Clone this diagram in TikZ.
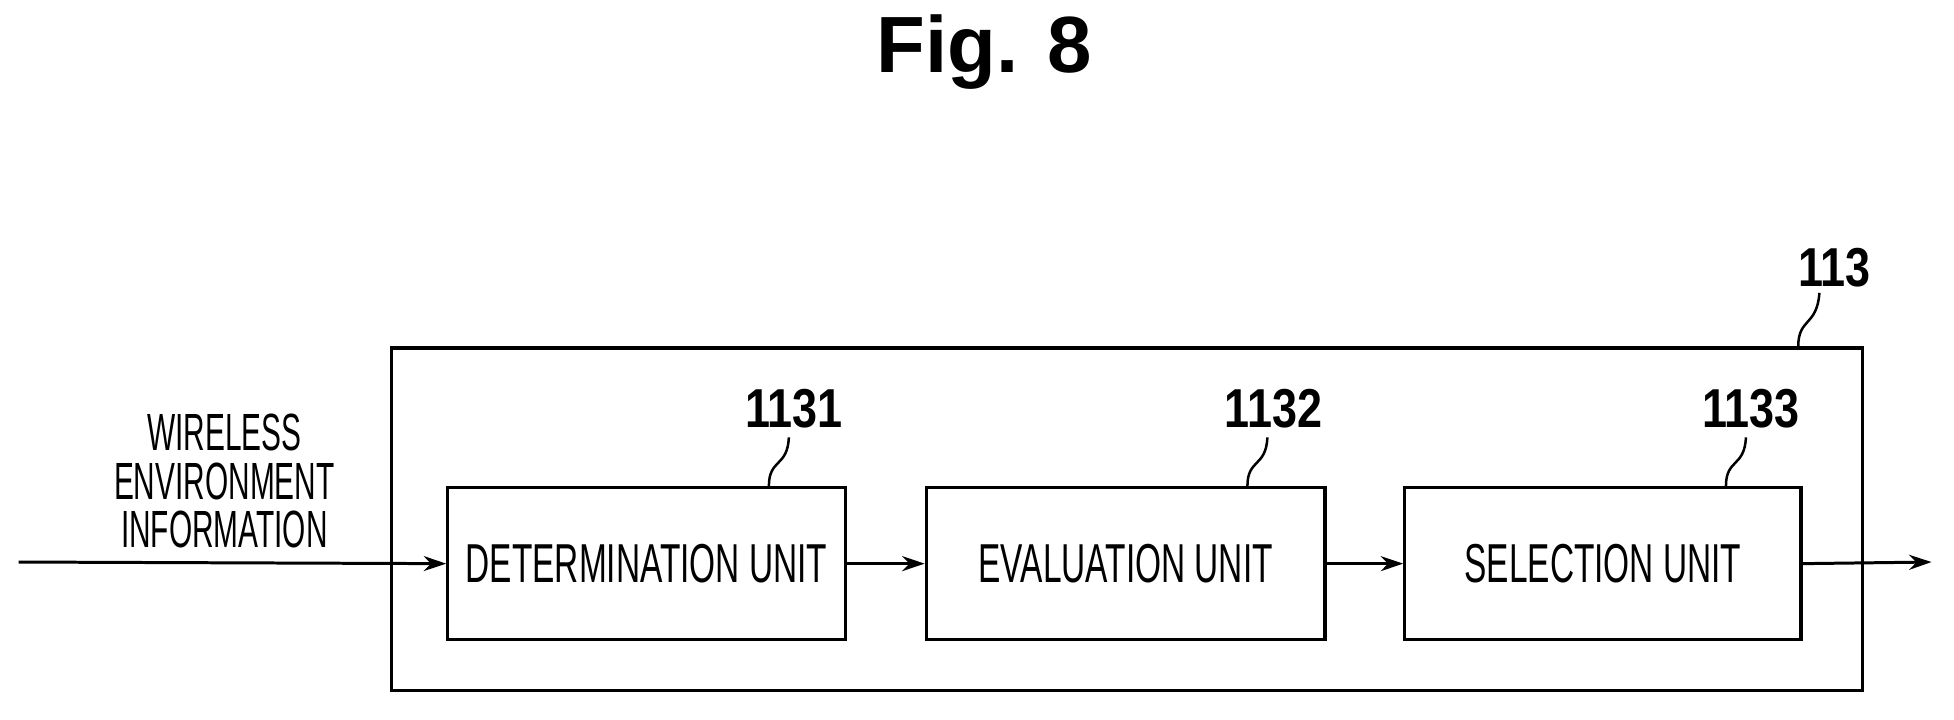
\documentclass[tikz,border=0pt]{standalone}
\usepackage{fontspec}
\setmainfont{Liberation Sans}
\usetikzlibrary{arrows.meta}
\begin{document}
\begin{tikzpicture}[x=0.5pt,y=-0.5pt,
  box/.style={draw,line width=1.3pt,anchor=north west,inner sep=0},
  lbl/.style={font=\fontsize{22}{22}\selectfont},
  num/.style={font=\fontsize{22}{22}\selectfont\bfseries},
  arr/.style={line width=1.2pt,-{Stealth[length=9pt,width=6pt]}},
  lead/.style={line width=1pt}]
\useasboundingbox (0,0) rectangle (1568,577);
\node[font=\fontsize{32}{32}\selectfont\bfseries] (title) at (790,42) {Fig. 8};
\node[box,minimum width=590pt,minimum height=137.5pt] (outer) at (313,278) {};
\node[box,minimum width=159.5pt,minimum height=61pt] (b1) at (358,390) {};
\node[box,minimum width=160pt,minimum height=61pt] (b2) at (742,390) {};
\node[box,minimum width=159pt,minimum height=61pt] (b3) at (1126,390) {};
\node[lbl] at (b1.center) {\scalebox{0.61}[1]{DETERMINATION UNIT}};
\node[lbl] at (b2.center) {\scalebox{0.61}[1]{EVALUATION UNIT}};
\node[lbl] at (b3.center) {\scalebox{0.61}[1]{SELECTION UNIT}};
\node[num] (n113) at (1472,215) {\scalebox{0.82}[1]{113}};
\node[num] (n1) at (637,328) {\scalebox{0.82}[1]{1131}};
\node[num] (n2) at (1022,328) {\scalebox{0.82}[1]{1132}};
\node[num] (n3) at (1405,328) {\scalebox{0.82}[1]{1133}};
\draw[lead] (1443,278) .. controls (1443,255) and (1458,262) .. (1460,235);
\draw[lead] (617,390) .. controls (617,368) and (632,375) .. (633,351);
\draw[lead] (1001,390) .. controls (1001,368) and (1016,375) .. (1017,351);
\draw[lead] (1385,390) .. controls (1385,368) and (1400,375) .. (1401,351);
\node[font=\fontsize{21}{18.5}\selectfont,align=center] (win) at (180,386) {\scalebox{0.57}[1]{WIRELESS}\\[1pt]\scalebox{0.57}[1]{ENVIRONMENT}\\[1pt]\scalebox{0.57}[1]{INFORMATION}};
\coordinate (in) at (15,451);
\coordinate (out) at (1550,451);
\draw[arr] (in) -- (b1.west);
\draw[arr] (b1.east) -- (b2.west);
\draw[arr] (b2.east) -- (b3.west);
\draw[arr] (b3.east) -- (out);
\end{tikzpicture}
\end{document}
